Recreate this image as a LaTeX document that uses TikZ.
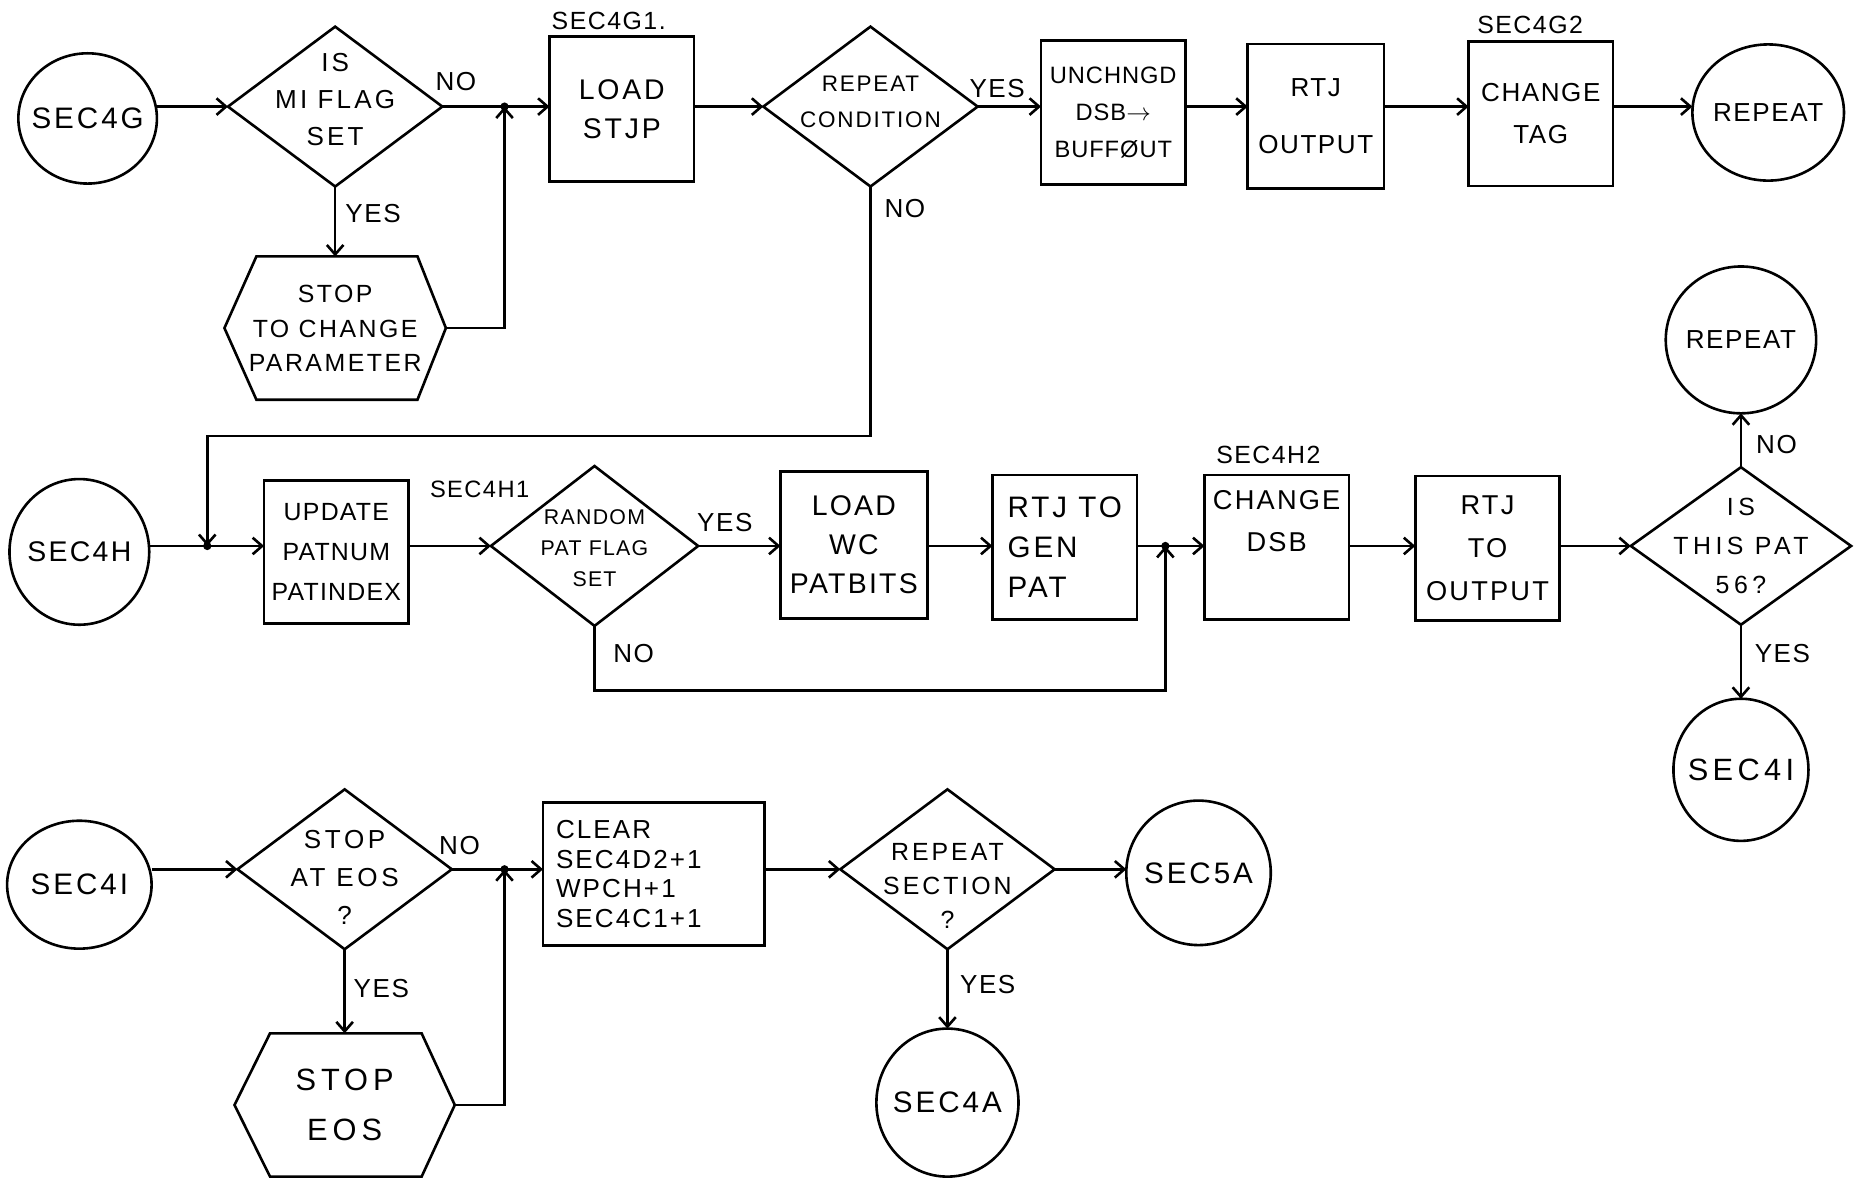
\documentclass[tikz,border=0pt]{standalone}
\usepackage{fontspec}
\setmainfont{Liberation Sans}[LetterSpace=6]
\usetikzlibrary{arrows.meta,shapes.geometric,calc}
\newcommand\hf[3]{\fontsize{#1}{#2}\selectfont\addfontfeature{LetterSpace=#3}}
\begin{document}
\begin{tikzpicture}[x=1pt,y=-1pt, line width=2.2pt,
  every node/.style={inner sep=0pt, outer sep=0pt},
  box/.style={draw, rectangle, minimum width=122, minimum height=122, align=center, font=\hf{22}{30}{6}},
  term/.style={draw, ellipse, inner sep=-30pt, align=center, font=\hf{25}{28}{10}},
  dec/.style={draw, diamond, minimum width=181, minimum height=135},
  dtext/.style={align=center},
  hextext/.style={minimum width=187, minimum height=121, align=center},
  lab/.style={font=\hf{22}{24}{6}},
  seclab/.style={font=\hf{21}{24}{6}},
  arr/.style={-{Straight Barb[length=8pt,width=14pt]}}
]
\useasboundingbox (0,0) rectangle (1568,996);
\coordinate (r1) at (0,90);
\coordinate (r2) at (0,461);
\coordinate (r3) at (0,734);

% ---------------- Row 1 ----------------
\node[term, minimum width=117, minimum height=110] (sec4g) at (74,100) {SEC4G};
\node[dec] (isdec) at (283,90) {};
\node[dtext, font=\hf{22}{31}{12}] (tisdec) at (283,84) {IS\\MI FLAG\\SET};
\node[lab] (no1) at (385,69) {NO};
\node[lab] (yes1) at (315,180) {YES};
\node[hextext, font=\hf{21}{31}{10}] (stop1) at (283,277) {STOP\\[-1pt]TO CHANGE\\[-3pt]PARAMETER};
\draw (stop1.west) -- ($(stop1.north west)+(27,0)$) -- ($(stop1.north east)+(-24,0)$)
  -- (stop1.east) -- ($(stop1.south east)+(-24,0)$) -- ($(stop1.south west)+(27,0)$) -- cycle;
\coordinate (j1) at (426,90);
\node[seclab] (l4g1) at (514,18) {SEC4G1.};
\node[box, font=\hf{24}{33}{10}] (load) at (525,92) {LOAD\\STJP};
\node[dec] (repcond) at (735,90) {};
\node[dtext, font=\hf{19}{30}{8}] (trepcond) at (735,86) {REPEAT\\CONDITION};
\node[lab] (yes2) at (842,75) {YES};
\node[lab] (no2) at (764,176) {NO};
\node[box, font=\hf{20}{31}{4}] (unch) at (940,95) {UNCHNGD\\DSB$\rightarrow$\\BUFFØUT};
\node[box, minimum width=115] (rtjo) at (1111,98) {RTJ\\[18pt]OUTPUT};
\node[seclab] (l4g2) at (1292,21) {SEC4G2};
\node[box] (chtag) at (1301,96) {CHANGE\\[6pt]TAG};
\node[term, minimum width=128, minimum height=115, font=\hf{22}{26}{6}] (rep1) at (1493,95) {REPEAT};

\draw[arr] (sec4g.east |- r1) -- (isdec.west);
\draw (isdec.east) -- (j1);
\draw[arr] (j1) -- (load.west |- r1);
\draw[arr] (isdec.south) -- (stop1.north);
\draw[arr] (stop1.east) -| (j1);
\fill (j1) circle (3.5pt);
\draw[arr] (load.east |- r1) -- (repcond.west);
\draw[arr] (repcond.east) -- (unch.west |- r1);
\draw[arr] (unch.east |- r1) -- (rtjo.west |- r1);
\draw[arr] (rtjo.east |- r1) -- (chtag.west |- r1);
\draw[arr] (chtag.east |- r1) -- (rep1.west |- r1);

% ---------------- Row 2 ----------------
\coordinate (c1) at (735,368);
\coordinate (j2) at (175,461);
\node[term, minimum width=118, minimum height=123, font=\hf{24}{28}{8}] (sec4h) at (67,466) {SEC4H};
\node[box, minimum height=121, font=\hf{21}{34}{5}] (update) at (284,466) {UPDATE\\PATNUM\\PATINDEX};
\node[seclab, font=\hf{20}{24}{6}] (l4h1) at (405,413) {SEC4H1};
\node[dec, minimum width=175] (rdec) at (502,461) {};
\node[dtext, font=\hf{18}{26}{6}] (trdec) at (502,463) {RANDOM\\PAT FLAG\\SET};
\node[lab] (yes3) at (612,441) {YES};
\node[lab] (no3) at (535,552) {NO};
\node[box, minimum width=124, minimum height=124, font=\hf{24}{33}{8}] (loadwc) at (721,460) {LOAD\\WC\\PATBITS};
\node[box, align=left, font=\hf{25}{34}{10}] (rtjgen) at (899,462) {RTJ TO\\GEN\\PAT};
\coordinate (j3) at (984,461);
\coordinate (c2) at (502,583);
\node[seclab] (l4h2) at (1071,384) {SEC4H2};
\node[box] (chdsb) at (1078,462) {};
\node[align=center, font=\hf{23}{36}{8}] (tchdsb) at (1078,440) {CHANGE\\DSB};
\node[box, font=\hf{23}{36}{8}] (rtjout) at (1256,463) {RTJ\\TO\\OUTPUT};
\node[dec, minimum width=186, minimum height=133] (isthis) at (1470,461) {};
\node[dtext, font=\hf{21}{33}{18}] (tisthis) at (1470,461) {IS\\THIS PAT\\56?};
\node[term, minimum width=127, minimum height=124, font=\hf{22}{26}{6}] (rep2) at (1470,287) {REPEAT};
\node[lab] (no4) at (1500,375) {NO};
\node[lab] (yes4) at (1505,552) {YES};
\node[term, minimum width=114, minimum height=120, font=\hf{26}{30}{14}] (sec4i2) at (1470,650) {SEC4I};

\draw[arr] (repcond.south) -- (c1) -| (j2);
\draw (sec4h.east |- r2) -- (j2);
\draw[arr] (j2) -- (update.west |- r2);
\fill (j2) circle (3.5pt);
\draw[arr] (update.east |- r2) -- (rdec.west);
\draw[arr] (rdec.east) -- (loadwc.west |- r2);
\draw[arr] (loadwc.east |- r2) -- (rtjgen.west |- r2);
\draw (rtjgen.east |- r2) -- (j3);
\draw[arr] (j3) -- (chdsb.west |- r2);
\draw[arr] (rdec.south) -- (c2) -| (j3);
\fill (j3) circle (3.5pt);
\draw[arr] (chdsb.east |- r2) -- (rtjout.west |- r2);
\draw[arr] (rtjout.east |- r2) -- (isthis.west);
\draw[arr] (isthis.north) -- (rep2.south);
\draw[arr] (isthis.south) -- (sec4i2.north);

% ---------------- Row 3 ----------------
\node[term, minimum width=122, minimum height=108] (sec4i) at (67,747) {SEC4I};
\node[dec] (stopdec) at (291,734) {};
\node[dtext, font=\hf{22}{32}{14}] (tstopdec) at (291,741) {STOP\\AT EOS\\?};
\node[lab] (no5) at (388,714) {NO};
\node[lab] (yes5) at (322,835) {YES};
\node[hextext, minimum width=186, font=\hf{26}{32}{16}] (stop2) at (291,933) {STOP\\[10pt]EOS};
\draw (stop2.west) -- ($(stop2.north west)+(30,0)$) -- ($(stop2.north east)+(-28,0)$)
  -- (stop2.east) -- ($(stop2.south east)+(-28,0)$) -- ($(stop2.south west)+(30,0)$) -- cycle;
\coordinate (j4) at (426,734);
\node[box, minimum width=187, minimum height=121, align=left, text width=165, font=\hf{22}{25}{8}] (clear) at (552,738) {CLEAR\\SEC4D2+1\\WPCH+1\\SEC4C1+1};
\node[dec] (repsec) at (800,734) {};
\node[dtext, font=\hf{21}{29}{12}] (trepsec) at (800,748) {REPEAT\\SECTION\\?};
\node[term, minimum width=122, minimum height=122] (sec5a) at (1012,737) {SEC5A};
\node[lab] (yes6) at (834,831) {YES};
\node[term, minimum width=120, minimum height=125] (sec4a) at (800,931) {SEC4A};

\draw[arr] (sec4i.east |- r3) -- (stopdec.west);
\draw (stopdec.east) -- (j4);
\draw[arr] (j4) -- (clear.west |- r3);
\draw[arr] (stopdec.south) -- (stop2.north);
\draw[arr] (stop2.east) -| (j4);
\fill (j4) circle (3.5pt);
\draw[arr] (clear.east |- r3) -- (repsec.west);
\draw[arr] (repsec.east) -- (sec5a.west |- r3);
\draw[arr] (repsec.south) -- (sec4a.north);
\end{tikzpicture}
\end{document}
